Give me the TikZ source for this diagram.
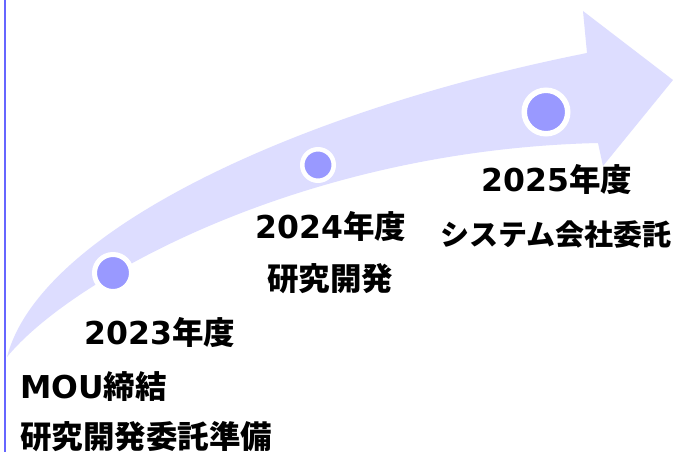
\documentclass[tikz,border=0pt]{standalone}
\usepackage{fontspec}
\newfontfamily\cjk{Noto Sans CJK JP}
\newfontfamily\lat{DejaVu Sans}
\definecolor{arrowlav}{HTML}{DDDDFF}
\definecolor{dotfill}{HTML}{9999FF}
\definecolor{sideline}{HTML}{6666FF}
\tikzset{
  dot/.style={circle, fill=dotfill, draw=white, inner sep=0pt},
  lbl/.style={inner sep=0pt, font=\fontsize{31.5}{36}\selectfont\bfseries, text=black},
}
\begin{document}
\begin{tikzpicture}[x=1pt,y=-1pt]
\useasboundingbox[fill=white] (0,0) rectangle (673,452);
% side line
\coordinate (ltop) at (5,0);
\coordinate (lbot) at (5,452);
\draw[sideline, line width=2pt] (ltop) -- (lbot);
% curved arrow
\fill[arrowlav] (7,357) .. controls (40,230) and (300,110) .. (587,53)
  -- (583,11) -- (673,80) -- (603,166) -- (598,143)
  .. controls (300,150) and (70,280) .. (7,357) -- cycle;
% milestones
\node[dot, line width=5pt, minimum size=37pt] (c1) at (113,273) {};
\node[dot, line width=4.5pt, minimum size=31.5pt] (c2) at (318,165) {};
\node[dot, line width=5.5pt, minimum size=43.5pt] (c3) at (546,112) {};
% labels
\node[lbl] (y23) at (160,333) {\lat 2023\cjk 年度};
\node[lbl, anchor=west] (m23a) at (20,387) {\lat MOU\cjk 締結};
\node[lbl, anchor=west] (m23b) at (20,437) {\cjk 研究開発委託準備};
\node[lbl] (y24) at (331,227) {\lat 2024\cjk 年度};
\node[lbl] (m24) at (330,279) {\cjk 研究開発};
\node[lbl] (y25) at (557,180) {\lat 2025\cjk 年度};
\node[lbl, font=\fontsize{29}{36}\selectfont\bfseries] (m25) at (556,234) {\cjk システム会社委託};
\end{tikzpicture}
\end{document}
